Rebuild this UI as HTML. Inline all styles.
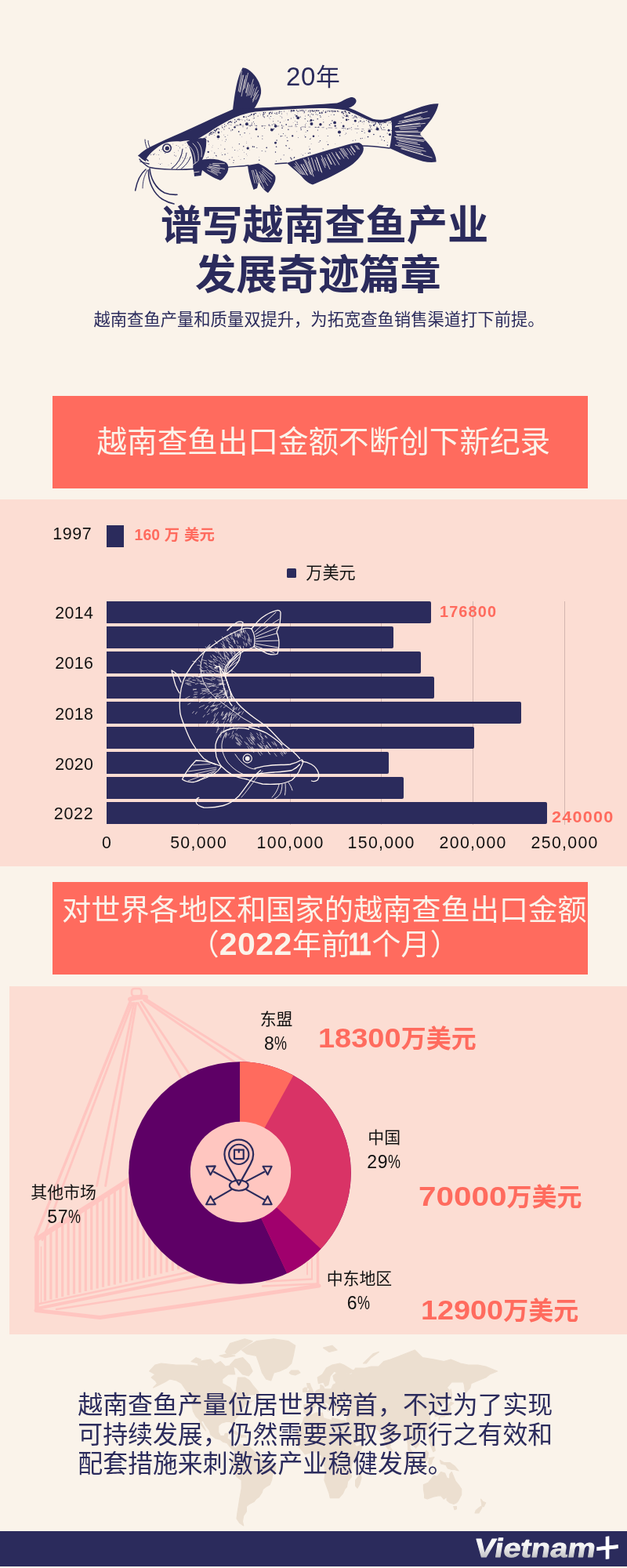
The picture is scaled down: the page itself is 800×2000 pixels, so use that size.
<!DOCTYPE html>
<html lang="zh">
<head>
<meta charset="utf-8">
<title>谱写越南查鱼产业发展奇迹篇章</title>
<style>
*{margin:0;padding:0;box-sizing:border-box}
html,body{width:800px;height:2000px;overflow:hidden;background:#faf3ea}
body{position:relative;font-family:"Liberation Sans","Noto Sans CJK SC",sans-serif;color:#2b2b5c}
.abs{position:absolute}
.t{position:absolute;white-space:nowrap;line-height:1}
.cj{font-family:"Noto Sans CJK SC","Liberation Sans",sans-serif}
.banner{position:absolute;left:67px;width:683px;background:#ff6b5e;color:#fbf3ea}
#b1{top:505.3px;height:117.8px}
#b2{top:1125.1px;height:117.5px}
.panel{position:absolute;background:#fcddd3}
#p1{left:0;top:637px;width:800px;height:467.5px}
#p2{left:12px;top:1257.5px;width:788px;height:444px}
.bar{position:absolute;left:136px;height:28.5px;background:#2b2b5c;border-radius:0 2px 2px 0}
.yl{position:absolute;font-size:21.4px;letter-spacing:.3px;color:#111;line-height:1;left:70.3px;white-space:nowrap}
.xl{position:absolute;font-size:21.3px;letter-spacing:1.3px;text-indent:1.3px;color:#111;line-height:1;top:1065px;width:120px;text-align:center;white-space:nowrap}
.grid{position:absolute;top:767px;width:1px;height:285px;background:#d3b6af}
.val{position:absolute;font-size:19.4px;font-weight:700;color:#ff6b5e;line-height:1;white-space:nowrap;letter-spacing:1.1px}
.big{position:absolute;font-size:32px;font-weight:700;color:#ff6b5e;line-height:1;white-space:nowrap}
.big b{display:inline-block;font-size:35px;transform-origin:0 50%}
.pl{position:absolute;margin-top:.4px;font-size:20.9px;color:#111;line-height:1;white-space:nowrap}
.pn{position:absolute;font-size:23px;color:#111;line-height:1;white-space:nowrap;letter-spacing:.6px;margin-top:.3px}
.pn i{display:inline-block;font-style:normal;transform:scaleX(.78);transform-origin:0 50%;letter-spacing:0}
#foot{position:absolute;left:0;top:1953.3px;width:800px;height:44.5px;background:#2b2b5c}
#ft{position:absolute;left:99.3px;top:1774.3px;font-size:31.9px;line-height:37.3px;white-space:nowrap}
</style>
</head>
<body>
<!--FISH1S--><svg class="abs" style="left:160px;top:80px" width="420" height="190" viewBox="160 80 420 190" fill="none"><g fill="#2b2b5c"><path d="M297,140 C299,122 302,100 309.5,86.5 C314,86 318,89 322,93 C329,100 334,110 333,119 C331,128 327,135 323,140 Z"/><path d="M176.5,198.3 C181,193.5 186,190.5 191,187.8 C205,181 218,175 232,169 C254,159 275,149 297,139.6 C310,138.8 330,137.6 350,136.6 C380,135 410,133 430,131.5 C436,130 441,125.5 447,124.2 C452,123.6 455,126.5 454.5,129.5 C453.5,133.5 449,136.5 445,137.5 C456,141.5 466,147.5 476,151.8 C484,154 492,152.5 500,150 L500.5,153.5 C492,156 484,157 475,155 C463,151 452,144 441,140.5 C420,137 400,138 380,138.8 C360,139.8 340,141 326,142.5 C314,144.5 306,147 297,151 C288,155 280,160 272,165 C265,170 258,174 250,178.5 C242,179 236,179.500 230,180.500 C222,180 214,180.500 207,184 C200,188 194,193 190,198 C187,201 186,204 186,206 C182,204 179,201.5 176.5,198.3 Z"/><path d="M238,181 C246,177 256,175 263,177 C264,185 262,196 258,204 C254,210 250,214 246,217 C247,209 246,199 243,192 C242,188 240,184 238,181 Z"/><path d="M252,206 C262,201 278,202 288,207 C292,210 292,215 290,220 C287,225 284,229 281,230 C273,227 264,222 258,217 L256.5,224 L248,225 L247,216 Z"/><path d="M316,211 L330,208.5 C338,212 346,218 351,224 C353,230 349,238 342,246 C338,244 333,238 330,232 L328,240 L323.5,242 C320,232 317,221 316,211 Z"/><path d="M366,208 C380,203 400,197 420,191 C435,187 450,182 458,182 C464,184 465.5,190 462,196 C456,206 446,213 436,218 C424,225 410,231 399,235.5 C393,234 388,229 384,224 C378,218 371,213 366,208 Z"/><path d="M499,150 C512,146 526,140 538,136 C546,133.5 553,132 559.5,132.3 C558,140 553,150 546,158 C542,163 538,167 536,171 C540,176 546,182 551,189 C554,195 557,201 556.5,206.5 C548,208 538,206 528,202 C517,198 506,193 497,189 C500,176 501,163 499,150 Z"/></g><g stroke="#2b2b5c" stroke-linecap="round" fill="none"><path d="M178,203 C182,207 185,211 191,213.5 C205,216.5 230,217 247,215.5" stroke-width="1.3"/><path d="M290,213.5 C300,212.5 310,212 317,211" stroke-width="1.3"/><path d="M351,209 C356,208.600 361,208.300 366,208" stroke-width="1.3"/><path d="M462,186 C474,186 486,187.5 497,189" stroke-width="1.6"/><path d="M300,160 C350,160 420,163 500,166" stroke-width=".6" stroke-dasharray="5 4 2 6" opacity=".7"/><path d="M177,198.5 C182,200 186,202 189,205" stroke-width="1.6"/><path d="M179,206 C183,207.5 187,208.5 190,209" stroke-width="1.3"/><path d="M233,190 C232,200 227,209 219,215" stroke-width="1.1"/><path d="M238,195 C237,203 232,210 225,215.5" stroke-width="1"/><path d="M243,200 C241,206 237,211 231,215.5" stroke-width="1"/><path d="M186,216 C180,221 175,230 172.6,243" stroke-width="1.5"/><path d="M188,217 C184,224 182,232 182,240" stroke-width=".9"/><path d="M191,215 C192,227 198,240 210,246 C215,248 220,248.5 226,248.3" stroke-width="1.6"/><path d="M189.5,217 C189,232 196,247 207,254 C212,257 217,259 222,260" stroke-width="1.6"/><path d="M185,178 C185,182 186,185 187.5,189" stroke-width="1"/><path d="M189,179.5 C189,183 190,185 191,187.5" stroke-width="1"/></g><circle cx="213" cy="189" r="5.2" fill="#faf3ea" stroke="#2b2b5c" stroke-width="1.6"/><circle cx="213.3" cy="189.2" r="2.6" fill="#2b2b5c"/><path d="M241,186 C246,190 249,198 249,208 M246,183 C252,188 254,196 253,205 M252,181 C257,186 258,193 257,200 M244,212 L252,206 M247,220 L254,219" stroke="#faf3ea" stroke-width=".8" fill="none" stroke-linecap="round"/><g stroke="#faf3ea" stroke-linecap="round" fill="none"><path stroke-width=".7" d="M304.2,116.2L308.4,90.5M305.6,117.1L309.3,96.1M306.7,117.3L310.7,96.0M308.1,122.7L312.4,101.6M310.3,114.4L314.1,96.3M312.2,112.8L316.5,93.2M313.7,117.6L316.7,105.3M314.0,118.7L317.0,106.8M314.9,122.4L318.7,108.1M317.2,121.8L323.2,101.1M319.2,121.2L323.5,107.8M320.2,124.3L324.3,112.8M323.5,122.0L328.0,110.9M322.5,127.8L326.9,117.9M322.5,130.0L329.6,115.2M326.3,126.9L329.7,120.7"/><path stroke-width=".8" d="M515.9,149.5L538.3,143.1M516.6,150.0L545.3,142.1M509.2,155.1L536.8,149.0M513.6,155.5L538.8,150.5M508.0,157.6L548.0,150.3M505.1,160.9L535.5,157.1M504.3,161.7L542.4,157.3M509.5,163.1L536.5,160.7M511.0,164.9L531.3,163.6M504.3,167.7L533.3,167.1M505.7,168.8L539.0,168.8M505.8,171.5L538.1,173.3M506.8,172.4L538.5,174.7M503.7,174.4L542.3,179.0M505.4,175.7L540.4,180.5M505.9,177.7L532.4,182.1M509.3,179.7L535.7,184.7M506.9,181.8L540.1,189.1M508.3,184.4L543.1,193.1M504.4,185.0L537.3,193.8M512.8,189.2L539.6,196.9M511.8,189.6L551.1,201.1"/><path stroke-width=".7" d="M271.6,208.5L286.4,208.7M267.6,209.8L279.4,210.7M271.9,211.0L280.7,212.0M266.4,211.9L286.5,215.4M266.7,213.0L280.4,216.0M264.5,213.6L279.6,218.0M269.7,216.6L281.7,220.8M269.5,217.9L277.1,221.1M264.8,216.9L277.9,223.5"/><path stroke-width=".7" d="M321.4,217.4L325.1,233.4M323.1,217.2L328.3,234.1M327.1,223.7L332.3,237.4M327.2,220.8L332.5,233.1M326.0,216.5L337.1,240.6M331.8,224.0L336.3,232.5M330.8,219.3L341.5,236.6M334.1,221.9L339.1,229.2M334.2,218.9L345.4,232.3M335.3,217.4L346.6,228.2M334.8,214.8L347.6,224.5"/><path stroke-width=".8" d="M375.1,212.6L383.6,221.8M377.0,212.1L386.0,222.7M376.4,208.8L387.4,222.7M377.4,206.3L389.3,223.0M384.3,210.5L392.3,223.5M384.1,209.4L391.9,222.4M386.9,209.5L391.5,218.1M387.5,202.9L396.2,222.2M389.6,204.0L397.6,223.0M393.2,206.2L400.1,224.9M393.1,201.1L399.2,219.2M397.5,201.5L402.1,217.2M401.9,203.9L406.6,218.1M403.5,200.6L410.1,218.8M404.0,201.3L410.7,220.0M410.3,202.8L415.0,213.8M410.0,198.4L415.7,211.1M414.0,201.2L420.9,215.7M418.0,200.8L422.5,209.6M417.0,197.4L423.3,209.2M419.8,196.3L427.8,210.5M423.3,194.6L432.8,210.1M428.3,194.1L434.1,202.8M429.0,196.6L433.3,203.0M432.9,193.3L438.8,202.0M434.1,189.8L440.7,199.5M435.6,189.4L444.4,202.3M437.8,189.4L443.2,197.3M442.7,189.4L448.5,197.8M446.3,189.7L451.7,197.5M447.6,186.9L452.7,194.0M448.1,186.1L453.3,193.5M453.0,185.3L456.8,190.4M455.2,186.0L458.4,190.3"/></g><g fill="#2b2b5c"><circle cx="406.7" cy="162.1" r="0.70"/><circle cx="427.3" cy="142.0" r="0.70"/><circle cx="483.7" cy="166.0" r="0.40"/><circle cx="305.6" cy="190.3" r="0.30"/><circle cx="395.7" cy="177.3" r="0.60"/><circle cx="415.6" cy="141.7" r="0.35"/><circle cx="309.6" cy="191.5" r="0.35"/><circle cx="494.5" cy="159.5" r="0.60"/><circle cx="431.8" cy="141.8" r="0.35"/><circle cx="267.0" cy="172.3" r="0.70"/><circle cx="443.9" cy="147.3" r="0.30"/><circle cx="310.8" cy="186.7" r="0.70"/><circle cx="299.8" cy="153.9" r="0.40"/><circle cx="371.9" cy="202.9" r="0.80"/><circle cx="486.9" cy="158.8" r="0.35"/><circle cx="441.4" cy="145.2" r="0.50"/><circle cx="459.1" cy="154.6" r="0.40"/><circle cx="462.2" cy="155.7" r="0.50"/><circle cx="489.1" cy="174.6" r="0.50"/><circle cx="292.2" cy="163.5" r="0.50"/><circle cx="306.6" cy="158.1" r="0.30"/><circle cx="264.7" cy="208.1" r="0.70"/><circle cx="389.6" cy="195.7" r="0.35"/><circle cx="376.8" cy="159.3" r="0.35"/><circle cx="369.1" cy="189.3" r="0.70"/><circle cx="323.1" cy="151.0" r="0.40"/><circle cx="340.2" cy="188.4" r="0.80"/><circle cx="385.0" cy="140.7" r="0.70"/><circle cx="407.5" cy="181.0" r="0.40"/><circle cx="427.9" cy="183.6" r="0.30"/><circle cx="305.0" cy="151.2" r="0.50"/><circle cx="335.9" cy="146.1" r="0.80"/><circle cx="283.4" cy="179.0" r="0.35"/><circle cx="408.9" cy="158.7" r="1.73"/><circle cx="457.7" cy="155.8" r="0.50"/><circle cx="387.2" cy="141.1" r="0.50"/><circle cx="464.0" cy="157.9" r="0.40"/><circle cx="437.3" cy="163.7" r="0.40"/><circle cx="334.2" cy="192.4" r="0.50"/><circle cx="446.4" cy="144.5" r="0.35"/><circle cx="290.4" cy="157.2" r="0.35"/><circle cx="320.8" cy="146.1" r="0.70"/><circle cx="389.5" cy="159.3" r="0.50"/><circle cx="423.8" cy="141.6" r="0.50"/><circle cx="395.9" cy="142.9" r="0.60"/><circle cx="285.9" cy="165.0" r="0.60"/><circle cx="379.7" cy="158.5" r="0.50"/><circle cx="374.7" cy="140.9" r="0.80"/><circle cx="293.5" cy="155.2" r="0.50"/><circle cx="299.7" cy="152.4" r="0.50"/><circle cx="482.3" cy="156.1" r="0.30"/><circle cx="290.5" cy="172.3" r="0.35"/><circle cx="337.1" cy="149.2" r="0.60"/><circle cx="362.1" cy="154.2" r="0.30"/><circle cx="267.9" cy="170.5" r="0.70"/><circle cx="367.9" cy="165.3" r="0.70"/><circle cx="404.4" cy="141.1" r="0.30"/><circle cx="336.3" cy="143.8" r="0.70"/><circle cx="395.9" cy="141.2" r="0.60"/><circle cx="452.8" cy="147.5" r="0.35"/><circle cx="438.2" cy="161.0" r="1.43"/><circle cx="388.4" cy="143.1" r="0.70"/><circle cx="443.2" cy="145.2" r="0.40"/><circle cx="275.1" cy="166.8" r="0.80"/><circle cx="282.4" cy="195.0" r="0.30"/><circle cx="486.6" cy="163.7" r="0.60"/><circle cx="356.3" cy="142.5" r="0.35"/><circle cx="352.3" cy="205.5" r="0.50"/><circle cx="427.7" cy="160.6" r="1.21"/><circle cx="315.4" cy="152.1" r="0.30"/><circle cx="442.2" cy="152.8" r="1.35"/><circle cx="477.2" cy="160.4" r="0.70"/><circle cx="395.5" cy="195.0" r="0.80"/><circle cx="453.9" cy="147.5" r="0.30"/><circle cx="351.5" cy="194.0" r="0.70"/><circle cx="372.2" cy="141.3" r="0.80"/><circle cx="389.2" cy="151.6" r="0.70"/><circle cx="359.8" cy="150.1" r="0.50"/><circle cx="327.2" cy="160.6" r="0.50"/><circle cx="439.0" cy="142.0" r="0.50"/><circle cx="399.8" cy="153.4" r="0.70"/><circle cx="352.4" cy="187.1" r="0.70"/><circle cx="270.1" cy="209.9" r="0.60"/><circle cx="275.8" cy="198.5" r="0.70"/><circle cx="432.0" cy="142.3" r="0.50"/><circle cx="269.0" cy="169.4" r="0.80"/><circle cx="292.9" cy="203.3" r="0.50"/><circle cx="404.1" cy="141.1" r="0.70"/><circle cx="368.3" cy="141.8" r="0.30"/><circle cx="344.3" cy="143.3" r="0.60"/><circle cx="365.2" cy="158.9" r="0.80"/><circle cx="412.8" cy="155.8" r="0.60"/><circle cx="386.4" cy="198.1" r="0.50"/><circle cx="435.7" cy="142.3" r="0.35"/><circle cx="379.7" cy="141.9" r="0.60"/><circle cx="324.5" cy="157.7" r="0.50"/><circle cx="440.3" cy="142.2" r="0.50"/><circle cx="379.5" cy="155.9" r="0.50"/><circle cx="267.6" cy="170.5" r="0.50"/><circle cx="320.8" cy="146.0" r="0.30"/><circle cx="282.8" cy="167.9" r="0.35"/><circle cx="478.9" cy="156.3" r="0.50"/><circle cx="410.7" cy="143.4" r="0.80"/><circle cx="343.7" cy="145.1" r="0.80"/><circle cx="438.2" cy="166.1" r="0.35"/><circle cx="366.2" cy="175.2" r="0.50"/><circle cx="438.9" cy="144.0" r="0.40"/><circle cx="347.3" cy="159.1" r="0.60"/><circle cx="441.7" cy="164.8" r="0.40"/><circle cx="347.4" cy="143.0" r="0.60"/><circle cx="277.0" cy="164.2" r="0.80"/><circle cx="455.3" cy="150.9" r="0.30"/><circle cx="276.4" cy="164.9" r="0.35"/><circle cx="426.2" cy="146.4" r="0.60"/><circle cx="326.5" cy="144.6" r="0.60"/><circle cx="417.1" cy="142.8" r="0.35"/><circle cx="336.0" cy="148.3" r="0.50"/><circle cx="364.0" cy="173.0" r="0.50"/><circle cx="311.5" cy="202.4" r="0.50"/><circle cx="278.4" cy="189.4" r="0.30"/><circle cx="353.7" cy="145.5" r="0.50"/><circle cx="436.8" cy="143.6" r="0.70"/><circle cx="388.8" cy="172.9" r="0.40"/><circle cx="441.7" cy="169.9" r="0.50"/><circle cx="311.5" cy="148.7" r="0.40"/><circle cx="395.3" cy="190.2" r="0.70"/><circle cx="273.5" cy="172.7" r="0.35"/><circle cx="324.2" cy="145.1" r="0.60"/><circle cx="278.5" cy="174.4" r="1.92"/><circle cx="360.1" cy="163.3" r="0.80"/><circle cx="384.2" cy="165.4" r="0.70"/><circle cx="453.4" cy="148.3" r="0.40"/><circle cx="377.5" cy="149.0" r="0.35"/><circle cx="479.4" cy="157.8" r="0.60"/><circle cx="464.5" cy="166.8" r="0.35"/><circle cx="489.8" cy="162.7" r="0.60"/><circle cx="452.1" cy="148.9" r="0.70"/><circle cx="479.6" cy="156.5" r="0.40"/><circle cx="497.8" cy="156.5" r="0.40"/><circle cx="335.7" cy="146.9" r="0.50"/><circle cx="324.3" cy="187.3" r="0.80"/><circle cx="285.8" cy="172.1" r="0.40"/><circle cx="440.3" cy="142.0" r="0.80"/><circle cx="478.0" cy="156.3" r="0.35"/><circle cx="305.8" cy="152.6" r="0.50"/><circle cx="403.2" cy="145.8" r="0.50"/><circle cx="365.0" cy="185.8" r="0.70"/><circle cx="441.3" cy="143.1" r="0.80"/><circle cx="464.5" cy="154.9" r="0.70"/><circle cx="479.2" cy="157.1" r="0.35"/><circle cx="374.8" cy="141.4" r="0.30"/><circle cx="310.6" cy="149.1" r="0.70"/><circle cx="494.2" cy="170.0" r="0.50"/><circle cx="272.0" cy="201.4" r="0.30"/><circle cx="469.5" cy="174.6" r="0.80"/><circle cx="450.8" cy="158.3" r="0.40"/><circle cx="444.8" cy="143.7" r="0.40"/><circle cx="412.1" cy="189.8" r="0.50"/><circle cx="382.9" cy="140.6" r="0.40"/><circle cx="258.3" cy="196.1" r="0.40"/><circle cx="277.9" cy="164.4" r="0.35"/><circle cx="473.3" cy="164.2" r="0.35"/><circle cx="400.0" cy="173.7" r="1.29"/><circle cx="304.7" cy="167.9" r="0.80"/><circle cx="389.5" cy="148.0" r="0.40"/><circle cx="491.3" cy="156.3" r="0.70"/><circle cx="276.4" cy="165.6" r="0.80"/><circle cx="419.4" cy="141.5" r="0.35"/><circle cx="424.3" cy="141.6" r="0.70"/><circle cx="421.6" cy="159.8" r="0.35"/><circle cx="261.0" cy="177.3" r="0.80"/><circle cx="315.5" cy="157.2" r="0.80"/><circle cx="465.2" cy="169.3" r="0.50"/><circle cx="294.8" cy="166.8" r="0.50"/><circle cx="440.7" cy="148.4" r="0.35"/><circle cx="306.4" cy="171.8" r="0.60"/><circle cx="324.3" cy="150.6" r="0.60"/><circle cx="366.1" cy="144.4" r="0.35"/><circle cx="292.1" cy="155.8" r="0.40"/><circle cx="301.5" cy="154.8" r="0.80"/><circle cx="401.4" cy="141.1" r="0.50"/><circle cx="265.8" cy="210.1" r="0.70"/><circle cx="356.5" cy="142.3" r="0.70"/><circle cx="482.3" cy="156.1" r="0.50"/><circle cx="443.6" cy="164.5" r="0.70"/><circle cx="481.0" cy="162.3" r="0.70"/><circle cx="334.9" cy="173.2" r="0.50"/><circle cx="405.3" cy="141.1" r="0.60"/><circle cx="303.7" cy="152.4" r="0.80"/><circle cx="283.7" cy="162.7" r="0.60"/><circle cx="448.8" cy="165.3" r="0.40"/><circle cx="388.4" cy="141.9" r="0.50"/><circle cx="343.3" cy="150.1" r="0.40"/><circle cx="396.9" cy="141.2" r="0.50"/><circle cx="395.3" cy="140.9" r="0.50"/><circle cx="445.9" cy="144.2" r="0.80"/><circle cx="397.5" cy="158.0" r="1.97"/><circle cx="322.4" cy="187.1" r="0.80"/><circle cx="290.8" cy="195.4" r="0.35"/><circle cx="393.6" cy="141.6" r="0.60"/><circle cx="403.6" cy="141.1" r="0.30"/><circle cx="327.8" cy="188.6" r="0.50"/><circle cx="441.5" cy="143.8" r="0.40"/><circle cx="302.9" cy="159.7" r="0.35"/><circle cx="355.6" cy="171.1" r="0.40"/><circle cx="420.4" cy="159.2" r="0.70"/><circle cx="413.0" cy="162.1" r="0.40"/><circle cx="371.3" cy="141.3" r="0.70"/><circle cx="286.6" cy="161.7" r="0.60"/><circle cx="383.8" cy="141.4" r="0.60"/><circle cx="270.9" cy="187.8" r="0.40"/><circle cx="378.4" cy="140.7" r="0.60"/><circle cx="357.6" cy="156.1" r="0.70"/><circle cx="375.6" cy="200.7" r="0.70"/><circle cx="457.7" cy="149.1" r="0.35"/><circle cx="477.1" cy="159.8" r="0.70"/><circle cx="263.9" cy="201.5" r="0.50"/><circle cx="433.6" cy="173.0" r="0.70"/><circle cx="402.6" cy="162.2" r="0.50"/><circle cx="470.2" cy="154.8" r="0.80"/><circle cx="316.6" cy="186.5" r="0.30"/><circle cx="283.5" cy="197.6" r="0.50"/><circle cx="417.0" cy="180.8" r="0.35"/><circle cx="499.8" cy="166.5" r="0.60"/><circle cx="360.0" cy="173.5" r="0.50"/><circle cx="360.0" cy="142.1" r="0.35"/><circle cx="281.9" cy="184.9" r="0.35"/><circle cx="397.4" cy="145.2" r="0.50"/><circle cx="317.0" cy="148.4" r="0.60"/><circle cx="299.6" cy="156.4" r="0.80"/><circle cx="455.3" cy="149.8" r="0.60"/><circle cx="425.5" cy="142.0" r="0.50"/><circle cx="265.5" cy="200.2" r="0.50"/><circle cx="336.5" cy="143.8" r="0.80"/><circle cx="470.7" cy="154.8" r="0.30"/><circle cx="305.3" cy="183.7" r="0.60"/><circle cx="261.9" cy="183.6" r="0.50"/><circle cx="315.2" cy="198.8" r="0.30"/><circle cx="415.3" cy="142.5" r="0.60"/><circle cx="490.6" cy="156.0" r="0.70"/><circle cx="430.6" cy="141.8" r="0.80"/><circle cx="358.5" cy="142.3" r="0.50"/><circle cx="287.2" cy="174.4" r="0.50"/><circle cx="315.0" cy="164.0" r="0.50"/><circle cx="418.2" cy="173.6" r="0.50"/><circle cx="474.7" cy="156.5" r="0.50"/><circle cx="325.0" cy="159.8" r="0.35"/><circle cx="276.5" cy="199.8" r="0.35"/><circle cx="386.5" cy="140.7" r="0.50"/><circle cx="388.0" cy="144.4" r="0.35"/><circle cx="297.8" cy="207.5" r="0.50"/><circle cx="317.5" cy="148.0" r="0.30"/><circle cx="303.1" cy="192.1" r="0.30"/><circle cx="408.5" cy="179.6" r="0.70"/><circle cx="258.6" cy="201.5" r="0.30"/><circle cx="392.6" cy="154.5" r="0.60"/><circle cx="375.0" cy="140.9" r="0.50"/><circle cx="380.4" cy="175.5" r="0.40"/><circle cx="444.6" cy="143.6" r="0.70"/><circle cx="315.0" cy="152.1" r="0.50"/><circle cx="448.3" cy="162.7" r="0.50"/><circle cx="389.7" cy="174.8" r="0.80"/><circle cx="307.0" cy="203.4" r="0.30"/><circle cx="396.6" cy="176.2" r="0.40"/><circle cx="405.2" cy="151.7" r="0.70"/><circle cx="433.0" cy="168.5" r="2.01"/><circle cx="395.7" cy="148.7" r="0.50"/><circle cx="271.1" cy="170.6" r="0.60"/><circle cx="456.4" cy="160.7" r="0.50"/><circle cx="378.6" cy="155.8" r="0.40"/><circle cx="318.0" cy="153.3" r="0.80"/><circle cx="272.8" cy="169.1" r="0.60"/><circle cx="427.1" cy="156.4" r="1.86"/><circle cx="403.4" cy="141.2" r="0.80"/><circle cx="384.2" cy="196.5" r="0.30"/><circle cx="316.2" cy="189.1" r="1.66"/><circle cx="372.2" cy="191.0" r="0.30"/><circle cx="422.5" cy="157.6" r="0.50"/><circle cx="286.8" cy="190.1" r="0.70"/><circle cx="483.7" cy="157.1" r="0.60"/><circle cx="487.0" cy="178.4" r="0.50"/><circle cx="267.6" cy="172.7" r="0.30"/><circle cx="436.5" cy="148.9" r="0.40"/><circle cx="353.1" cy="179.0" r="0.70"/><circle cx="269.9" cy="171.3" r="0.50"/><circle cx="302.4" cy="159.9" r="0.40"/><circle cx="354.9" cy="154.3" r="0.50"/><circle cx="376.6" cy="154.4" r="0.40"/><circle cx="307.5" cy="152.6" r="0.35"/><circle cx="269.4" cy="169.7" r="0.50"/><circle cx="408.3" cy="147.4" r="0.50"/><circle cx="395.3" cy="154.7" r="0.50"/><circle cx="345.4" cy="143.2" r="0.60"/><circle cx="291.2" cy="156.8" r="0.35"/><circle cx="262.9" cy="175.1" r="0.70"/><circle cx="366.9" cy="179.5" r="0.70"/><circle cx="444.5" cy="148.4" r="0.30"/><circle cx="405.1" cy="146.4" r="0.50"/><circle cx="294.5" cy="165.0" r="0.30"/><circle cx="357.4" cy="148.1" r="0.40"/><circle cx="383.1" cy="149.2" r="0.60"/><circle cx="419.2" cy="141.6" r="0.50"/><circle cx="460.0" cy="154.2" r="0.80"/><circle cx="351.5" cy="182.3" r="1.47"/><circle cx="405.9" cy="141.2" r="0.30"/><circle cx="438.8" cy="146.1" r="0.30"/><circle cx="453.7" cy="178.7" r="0.50"/><circle cx="417.8" cy="141.4" r="0.50"/><circle cx="393.1" cy="142.8" r="0.35"/><circle cx="489.1" cy="174.5" r="0.50"/><circle cx="320.8" cy="176.1" r="0.35"/><circle cx="272.5" cy="168.8" r="0.60"/><circle cx="326.9" cy="164.8" r="1.50"/><circle cx="373.0" cy="141.2" r="0.50"/><circle cx="383.9" cy="163.3" r="0.70"/><circle cx="373.8" cy="141.8" r="0.50"/><circle cx="427.4" cy="141.7" r="0.70"/><circle cx="287.1" cy="196.9" r="0.70"/><circle cx="323.8" cy="147.9" r="0.50"/><circle cx="371.5" cy="142.8" r="0.50"/><circle cx="275.5" cy="165.0" r="0.60"/><circle cx="473.8" cy="160.4" r="0.50"/><circle cx="472.7" cy="162.1" r="0.70"/><circle cx="489.0" cy="156.8" r="0.50"/><circle cx="444.7" cy="152.5" r="0.70"/><circle cx="273.4" cy="166.2" r="0.80"/><circle cx="470.9" cy="156.0" r="0.70"/><circle cx="267.2" cy="170.8" r="0.50"/><circle cx="332.7" cy="146.4" r="0.30"/><circle cx="294.3" cy="154.8" r="0.50"/><circle cx="320.5" cy="146.6" r="0.30"/><circle cx="482.2" cy="182.5" r="0.30"/><circle cx="315.9" cy="153.8" r="0.35"/><circle cx="409.1" cy="149.2" r="0.60"/><circle cx="283.1" cy="160.8" r="0.50"/><circle cx="426.3" cy="155.3" r="0.50"/><circle cx="296.6" cy="165.6" r="0.80"/><circle cx="329.1" cy="148.0" r="0.60"/><circle cx="439.2" cy="147.6" r="0.50"/><circle cx="345.7" cy="163.7" r="0.40"/><circle cx="497.4" cy="171.6" r="1.55"/><circle cx="444.9" cy="147.4" r="0.40"/><circle cx="408.4" cy="144.2" r="0.80"/><circle cx="270.9" cy="168.4" r="0.70"/><circle cx="319.2" cy="160.8" r="0.60"/><circle cx="337.1" cy="145.6" r="0.50"/><circle cx="461.9" cy="167.4" r="0.70"/><circle cx="288.4" cy="177.9" r="0.50"/><circle cx="288.3" cy="160.2" r="0.50"/><circle cx="313.9" cy="148.3" r="0.30"/><circle cx="372.2" cy="160.2" r="0.40"/><circle cx="323.6" cy="146.0" r="0.70"/><circle cx="351.6" cy="160.9" r="1.81"/><circle cx="286.7" cy="158.8" r="0.50"/><circle cx="344.3" cy="151.8" r="0.35"/><circle cx="476.9" cy="171.5" r="0.80"/><circle cx="274.3" cy="169.0" r="0.50"/><circle cx="312.1" cy="169.6" r="0.70"/><circle cx="495.4" cy="156.8" r="0.50"/><circle cx="390.1" cy="168.5" r="0.40"/><circle cx="459.8" cy="154.7" r="0.50"/><circle cx="362.7" cy="141.9" r="0.30"/><circle cx="323.4" cy="155.5" r="0.50"/><circle cx="324.3" cy="145.5" r="0.80"/><circle cx="306.7" cy="158.9" r="1.11"/><circle cx="442.1" cy="153.9" r="0.30"/><circle cx="375.0" cy="201.4" r="0.50"/><circle cx="498.0" cy="156.9" r="0.30"/><circle cx="358.3" cy="173.8" r="0.70"/><circle cx="310.0" cy="161.8" r="0.50"/><circle cx="485.2" cy="174.0" r="0.80"/><circle cx="485.7" cy="155.9" r="0.30"/><circle cx="486.6" cy="159.8" r="0.35"/><circle cx="263.8" cy="179.3" r="0.35"/><circle cx="260.5" cy="176.3" r="0.60"/><circle cx="260.7" cy="180.6" r="0.50"/><circle cx="436.0" cy="144.2" r="0.35"/><circle cx="484.5" cy="158.7" r="0.70"/><circle cx="318.6" cy="191.7" r="0.30"/><circle cx="260.3" cy="176.3" r="0.60"/><circle cx="352.0" cy="145.2" r="0.50"/><circle cx="454.2" cy="149.0" r="0.80"/><circle cx="343.7" cy="144.3" r="0.60"/><circle cx="401.8" cy="141.8" r="0.50"/><circle cx="437.5" cy="142.2" r="0.40"/><circle cx="390.2" cy="157.3" r="0.40"/><circle cx="295.7" cy="156.1" r="0.40"/><circle cx="362.2" cy="141.8" r="0.30"/><circle cx="355.6" cy="144.0" r="0.50"/><circle cx="263.0" cy="174.2" r="0.35"/><circle cx="440.5" cy="142.0" r="0.60"/><circle cx="362.1" cy="197.7" r="0.50"/><circle cx="378.8" cy="167.8" r="0.40"/><circle cx="274.9" cy="167.6" r="0.60"/><circle cx="471.3" cy="167.3" r="1.73"/><circle cx="349.5" cy="158.1" r="0.50"/><circle cx="341.4" cy="147.9" r="0.70"/><circle cx="380.2" cy="150.3" r="1.84"/><circle cx="438.1" cy="144.9" r="0.80"/><circle cx="359.5" cy="145.0" r="0.50"/><circle cx="348.9" cy="151.6" r="0.30"/><circle cx="265.8" cy="180.8" r="0.80"/><circle cx="269.2" cy="169.2" r="0.60"/><circle cx="294.8" cy="159.2" r="0.50"/><circle cx="436.6" cy="142.9" r="0.80"/><circle cx="497.4" cy="156.8" r="0.40"/><circle cx="440.2" cy="171.7" r="0.35"/><circle cx="314.7" cy="182.3" r="0.40"/><circle cx="451.0" cy="150.4" r="0.50"/><circle cx="273.7" cy="195.0" r="0.60"/><circle cx="453.3" cy="150.0" r="0.30"/><circle cx="467.5" cy="153.4" r="0.50"/><circle cx="490.7" cy="155.9" r="0.35"/><circle cx="392.3" cy="166.8" r="0.80"/><circle cx="275.5" cy="170.0" r="0.30"/><circle cx="444.5" cy="149.3" r="0.35"/><circle cx="294.7" cy="156.5" r="0.35"/><circle cx="338.8" cy="193.1" r="0.50"/><circle cx="459.8" cy="150.0" r="0.40"/><circle cx="406.7" cy="141.2" r="0.80"/><circle cx="476.2" cy="156.4" r="0.50"/><circle cx="386.8" cy="142.1" r="0.50"/><circle cx="393.5" cy="195.4" r="0.70"/><circle cx="261.7" cy="176.2" r="0.60"/><circle cx="462.4" cy="176.2" r="0.50"/><circle cx="426.2" cy="141.8" r="0.40"/><circle cx="299.5" cy="162.3" r="1.22"/><circle cx="485.7" cy="161.8" r="0.60"/><circle cx="259.9" cy="176.5" r="0.50"/><circle cx="436.2" cy="143.5" r="0.50"/><circle cx="444.3" cy="143.6" r="0.35"/><circle cx="410.8" cy="144.5" r="0.70"/><circle cx="325.6" cy="144.7" r="0.35"/><circle cx="485.9" cy="156.8" r="0.70"/><circle cx="314.9" cy="158.3" r="1.98"/><circle cx="488.4" cy="155.7" r="0.80"/><circle cx="312.6" cy="154.0" r="0.50"/><circle cx="437.9" cy="150.3" r="0.80"/><circle cx="346.8" cy="144.8" r="0.80"/><circle cx="417.4" cy="142.1" r="0.30"/><circle cx="420.6" cy="142.0" r="0.70"/><circle cx="348.7" cy="154.7" r="0.50"/><circle cx="325.4" cy="144.7" r="0.35"/><circle cx="390.1" cy="140.8" r="0.50"/><circle cx="279.4" cy="164.7" r="0.60"/><circle cx="265.3" cy="179.5" r="0.60"/><circle cx="455.4" cy="169.4" r="0.40"/><circle cx="345.5" cy="148.5" r="0.60"/><circle cx="374.1" cy="156.5" r="0.30"/><circle cx="494.3" cy="185.3" r="0.70"/><circle cx="362.9" cy="142.3" r="0.35"/><circle cx="499.4" cy="155.0" r="0.80"/><circle cx="416.8" cy="164.0" r="0.50"/><circle cx="399.4" cy="146.7" r="0.40"/><circle cx="382.8" cy="140.6" r="0.35"/><circle cx="258.9" cy="207.7" r="0.50"/><circle cx="418.5" cy="184.5" r="0.80"/><circle cx="445.8" cy="144.1" r="0.80"/><circle cx="295.7" cy="156.1" r="0.60"/><circle cx="486.6" cy="176.2" r="0.30"/><circle cx="284.4" cy="163.1" r="0.35"/><circle cx="445.8" cy="144.1" r="0.35"/><circle cx="274.4" cy="166.1" r="0.35"/><circle cx="381.3" cy="141.9" r="0.60"/><circle cx="446.1" cy="144.6" r="0.70"/><circle cx="370.9" cy="201.2" r="0.80"/><circle cx="299.2" cy="152.4" r="0.40"/><circle cx="463.9" cy="151.8" r="0.40"/><circle cx="292.8" cy="164.1" r="0.40"/><circle cx="406.2" cy="173.4" r="0.35"/><circle cx="260.6" cy="176.1" r="0.35"/><circle cx="435.7" cy="156.5" r="0.40"/><circle cx="407.7" cy="144.0" r="0.80"/><circle cx="330.8" cy="200.3" r="0.30"/><circle cx="352.3" cy="143.9" r="0.50"/><circle cx="321.1" cy="146.0" r="0.70"/><circle cx="337.6" cy="150.0" r="0.40"/><circle cx="395.4" cy="146.9" r="0.35"/><circle cx="353.5" cy="143.8" r="0.50"/><circle cx="311.3" cy="148.8" r="0.80"/><circle cx="351.1" cy="158.4" r="0.60"/><circle cx="270.0" cy="192.7" r="0.30"/><circle cx="350.5" cy="144.4" r="0.50"/><circle cx="421.4" cy="157.3" r="0.30"/><circle cx="375.1" cy="141.4" r="0.80"/><circle cx="435.4" cy="143.7" r="0.35"/><circle cx="259.7" cy="183.3" r="0.50"/><circle cx="402.7" cy="143.2" r="0.50"/><circle cx="308.8" cy="174.3" r="0.30"/><circle cx="378.4" cy="147.9" r="1.19"/><circle cx="319.0" cy="147.5" r="0.70"/><circle cx="414.6" cy="143.4" r="0.35"/><circle cx="327.2" cy="162.6" r="0.35"/><circle cx="312.5" cy="149.2" r="0.30"/><circle cx="334.8" cy="177.0" r="0.50"/><circle cx="271.7" cy="185.8" r="0.30"/><circle cx="278.3" cy="163.6" r="0.60"/><circle cx="412.6" cy="141.3" r="0.50"/><circle cx="398.3" cy="141.0" r="0.80"/><circle cx="359.2" cy="160.4" r="0.35"/><circle cx="278.2" cy="177.7" r="0.40"/><circle cx="366.3" cy="146.0" r="0.35"/><circle cx="365.7" cy="186.2" r="0.35"/><circle cx="460.2" cy="176.7" r="0.60"/><circle cx="419.2" cy="148.4" r="0.35"/><circle cx="354.1" cy="161.7" r="0.35"/><circle cx="309.1" cy="153.0" r="0.40"/><circle cx="461.1" cy="150.6" r="0.50"/><circle cx="372.3" cy="141.1" r="0.70"/><circle cx="483.2" cy="156.2" r="0.80"/><circle cx="377.5" cy="159.1" r="0.70"/><circle cx="374.6" cy="149.9" r="0.40"/><circle cx="336.4" cy="143.7" r="0.40"/><circle cx="415.6" cy="143.5" r="0.70"/><circle cx="367.6" cy="152.9" r="0.80"/><circle cx="399.3" cy="146.1" r="0.70"/><circle cx="337.4" cy="163.5" r="0.50"/><circle cx="342.9" cy="146.9" r="0.30"/><circle cx="320.2" cy="146.2" r="0.50"/><circle cx="349.4" cy="164.4" r="0.70"/><circle cx="273.8" cy="166.2" r="0.70"/><circle cx="478.1" cy="158.5" r="0.80"/><circle cx="286.4" cy="159.1" r="0.35"/><circle cx="422.4" cy="146.6" r="0.40"/><circle cx="266.5" cy="184.1" r="0.40"/><circle cx="338.6" cy="143.7" r="0.60"/><circle cx="453.0" cy="147.1" r="0.40"/><circle cx="310.9" cy="149.3" r="0.60"/><circle cx="287.2" cy="180.5" r="0.40"/><circle cx="481.6" cy="164.6" r="1.89"/><circle cx="453.3" cy="154.2" r="1.46"/><circle cx="299.7" cy="191.5" r="0.50"/><circle cx="393.7" cy="141.6" r="0.35"/><circle cx="324.0" cy="146.2" r="0.50"/><circle cx="486.3" cy="155.9" r="0.70"/><circle cx="296.7" cy="188.0" r="0.40"/><circle cx="389.6" cy="161.9" r="0.50"/><circle cx="361.4" cy="170.4" r="0.50"/><circle cx="424.1" cy="143.1" r="0.50"/><circle cx="486.4" cy="159.1" r="0.60"/><circle cx="472.3" cy="155.4" r="0.35"/><circle cx="397.1" cy="183.6" r="0.35"/><circle cx="331.2" cy="144.1" r="0.35"/><circle cx="305.3" cy="152.9" r="0.60"/><circle cx="469.1" cy="154.0" r="0.35"/><circle cx="292.1" cy="159.0" r="0.40"/><circle cx="495.8" cy="164.5" r="0.35"/><circle cx="422.4" cy="141.6" r="0.60"/><circle cx="406.2" cy="181.3" r="0.35"/><circle cx="359.0" cy="148.3" r="0.35"/><circle cx="425.8" cy="141.6" r="0.35"/><circle cx="290.6" cy="157.7" r="0.60"/><circle cx="311.1" cy="149.8" r="0.40"/><circle cx="494.2" cy="181.3" r="0.40"/><circle cx="465.8" cy="176.0" r="0.30"/><circle cx="405.4" cy="166.0" r="0.60"/><circle cx="278.9" cy="169.0" r="1.40"/><circle cx="330.8" cy="204.3" r="0.70"/><circle cx="265.7" cy="193.8" r="1.17"/><circle cx="450.2" cy="179.2" r="0.50"/><circle cx="356.6" cy="144.1" r="0.60"/><circle cx="352.9" cy="187.2" r="0.50"/><circle cx="321.5" cy="157.0" r="0.60"/><circle cx="343.2" cy="159.2" r="0.70"/><circle cx="294.3" cy="155.2" r="0.80"/><circle cx="311.5" cy="194.2" r="0.40"/><circle cx="315.7" cy="163.1" r="0.50"/><circle cx="397.0" cy="150.1" r="0.30"/><circle cx="314.2" cy="149.3" r="0.60"/><circle cx="436.9" cy="142.2" r="0.30"/><circle cx="449.3" cy="150.6" r="0.35"/><circle cx="379.9" cy="144.9" r="0.30"/><circle cx="358.3" cy="203.1" r="0.60"/><circle cx="420.1" cy="141.5" r="0.35"/><circle cx="497.7" cy="156.6" r="0.40"/><circle cx="359.4" cy="159.6" r="0.50"/><circle cx="449.3" cy="147.2" r="0.50"/><circle cx="394.1" cy="186.9" r="0.35"/><circle cx="373.2" cy="173.4" r="1.13"/><circle cx="488.9" cy="157.6" r="0.40"/><circle cx="292.7" cy="155.7" r="0.80"/><circle cx="490.4" cy="179.4" r="0.60"/><circle cx="291.5" cy="156.2" r="0.60"/><circle cx="486.8" cy="155.9" r="0.40"/><circle cx="427.8" cy="142.1" r="0.80"/><circle cx="346.9" cy="165.6" r="1.97"/><circle cx="496.0" cy="166.3" r="1.42"/><circle cx="399.0" cy="141.8" r="0.80"/><circle cx="442.5" cy="147.9" r="1.32"/><circle cx="276.6" cy="165.5" r="0.40"/><circle cx="296.8" cy="154.7" r="0.35"/><circle cx="329.3" cy="174.1" r="0.80"/><circle cx="499.4" cy="158.2" r="0.30"/><circle cx="304.2" cy="199.2" r="0.30"/><circle cx="364.2" cy="153.0" r="0.30"/><circle cx="269.0" cy="171.6" r="0.50"/><circle cx="490.6" cy="155.6" r="0.70"/><circle cx="451.4" cy="150.3" r="0.35"/><circle cx="370.6" cy="141.5" r="0.30"/><circle cx="298.3" cy="204.6" r="0.60"/><circle cx="321.1" cy="159.2" r="0.60"/><circle cx="318.7" cy="170.2" r="0.40"/><circle cx="471.9" cy="160.0" r="0.70"/><circle cx="400.0" cy="141.7" r="0.80"/><circle cx="314.5" cy="196.5" r="0.40"/><circle cx="371.3" cy="150.9" r="0.50"/><circle cx="484.0" cy="156.7" r="0.70"/><circle cx="296.1" cy="200.8" r="0.50"/><circle cx="412.6" cy="152.8" r="0.30"/><circle cx="393.4" cy="146.8" r="0.70"/><circle cx="423.9" cy="153.9" r="0.70"/><circle cx="397.0" cy="153.5" r="1.42"/><circle cx="412.7" cy="141.3" r="0.40"/><circle cx="492.8" cy="156.0" r="0.80"/><circle cx="270.2" cy="169.2" r="0.30"/><circle cx="314.7" cy="180.8" r="0.30"/><circle cx="476.5" cy="159.4" r="0.70"/><circle cx="343.4" cy="143.2" r="0.35"/><circle cx="376.5" cy="146.6" r="0.50"/><circle cx="334.5" cy="160.9" r="0.60"/><circle cx="222.3" cy="194.3" r="0.40"/><circle cx="230.2" cy="210.3" r="0.30"/><circle cx="224.3" cy="199.0" r="0.50"/><circle cx="203.7" cy="192.1" r="0.30"/><circle cx="195.9" cy="197.3" r="0.50"/><circle cx="202.2" cy="208.2" r="0.30"/><circle cx="237.8" cy="188.5" r="0.40"/><circle cx="229.6" cy="188.9" r="0.40"/><circle cx="236.6" cy="188.2" r="0.30"/><circle cx="238.8" cy="175.7" r="0.40"/><circle cx="239.1" cy="201.3" r="0.40"/><circle cx="202.7" cy="197.5" r="0.40"/><circle cx="239.3" cy="186.4" r="0.30"/><circle cx="227.5" cy="192.0" r="0.40"/><circle cx="233.4" cy="195.5" r="0.30"/><circle cx="218.5" cy="208.3" r="0.50"/><circle cx="236.2" cy="177.3" r="0.50"/><circle cx="207.7" cy="189.3" r="0.30"/><circle cx="215.0" cy="210.7" r="0.30"/><circle cx="222.7" cy="198.1" r="0.50"/><circle cx="197.7" cy="196.0" r="0.40"/><circle cx="203.6" cy="191.4" r="0.50"/><circle cx="203.3" cy="202.1" r="0.30"/><circle cx="206.5" cy="208.2" r="0.30"/><circle cx="204.5" cy="209.5" r="0.50"/><circle cx="205.1" cy="193.6" r="0.30"/><circle cx="206.7" cy="190.7" r="0.50"/><circle cx="239.6" cy="175.0" r="0.30"/><circle cx="233.1" cy="185.0" r="0.40"/><circle cx="227.8" cy="186.6" r="0.40"/><circle cx="200.0" cy="197.7" r="0.30"/><circle cx="211.7" cy="189.9" r="0.40"/><circle cx="192.6" cy="197.3" r="0.50"/><circle cx="233.0" cy="201.1" r="0.50"/><circle cx="210.7" cy="190.5" r="0.30"/><circle cx="229.5" cy="205.6" r="0.30"/><circle cx="196.1" cy="196.7" r="0.50"/><circle cx="210.8" cy="195.5" r="0.50"/><circle cx="236.2" cy="182.7" r="0.40"/><circle cx="219.3" cy="187.2" r="0.30"/><circle cx="216.4" cy="185.8" r="0.30"/><circle cx="220.8" cy="183.8" r="0.40"/><circle cx="229.4" cy="188.0" r="0.40"/><circle cx="203.4" cy="203.0" r="0.30"/><circle cx="225.3" cy="185.7" r="0.40"/><circle cx="238.8" cy="207.7" r="0.30"/><circle cx="237.7" cy="202.7" r="0.30"/><circle cx="217.5" cy="184.9" r="0.40"/><circle cx="224.7" cy="185.5" r="0.30"/><circle cx="239.8" cy="181.4" r="0.50"/></g></svg><!--FISH1E-->
<div class="t" id="yr" style="left:365px;top:80.5px;font-size:30.8px"><span style="font-size:33px;letter-spacing:.7px">20</span>年</div>
<div class="t" id="h1a" style="left:205px;top:261.5px;font-size:52.3px;font-weight:700">谱写越南查鱼产业</div>
<div class="t" id="h1b" style="left:249px;top:325px;font-size:52.3px;font-weight:700">发展奇迹篇章</div>
<div class="t" id="sub" style="left:119.5px;top:398.3px;font-size:21.3px">越南查鱼产量和质量双提升，为拓宽查鱼销售渠道打下前提。</div>

<div class="banner" id="b1"></div>
<div class="t" id="b1t" style="left:123.5px;top:545px;font-size:38.6px;color:#fbf3ea">越南查鱼出口金额不断创下新纪录</div>
<div class="panel" id="p1"></div>

<div class="yl" style="top:671px;left:67.2px;font-size:21.5px;letter-spacing:.6px">1997</div>
<div class="abs" style="left:136.3px;top:670px;width:21.8px;height:27.6px;background:#2b2b5c"></div>
<div class="val" style="left:171.5px;top:673px;letter-spacing:.15px">160 万 美元</div>

<div class="abs" style="left:366.3px;top:724.5px;width:12px;height:12px;background:#2b2b5c;border-radius:1.5px"></div>
<div class="t" style="left:390.3px;top:720.3px;font-size:21.1px;color:#111">万美元</div>

<div class="grid" style="left:253px"></div>
<div class="grid" style="left:370px"></div>
<div class="grid" style="left:486px"></div>
<div class="grid" style="left:603px"></div>
<div class="grid" style="left:720px"></div>

<div class="bar" style="top:766.7px;width:413.6px"></div>
<div class="bar" style="top:798.7px;width:366px"></div>
<div class="bar" style="top:830.7px;width:401px"></div>
<div class="bar" style="top:862.7px;width:418px"></div>
<div class="bar" style="top:894.7px;width:529px"></div>
<div class="bar" style="top:926.7px;width:469px"></div>
<div class="bar" style="top:958.7px;width:360px"></div>
<div class="bar" style="top:990.7px;width:379px"></div>
<div class="bar" style="top:1022.7px;width:561.6px"></div>
<!--FISH2S--><svg class="abs" style="left:200px;top:760px" width="240" height="290" viewBox="200 760 240 290" fill="none" stroke-linecap="round" stroke-linejoin="round"><g stroke="#fff6f0" stroke-width="1.3"><path d="M321,802 C325,797 329,792 334,788 C340,783.500 347,780 354,778.400 C357,778.400 358.500,780 358,783 C358,788 357.500,792 357,796 C356,800 354,803 353,806 C354.500,810 356,815 356,820 C356,825 355.500,830 354,834 C350,835.500 346,835 342,834 C336,831.500 330,828 324,825"/><path d="M321,802 C324.500,808 326,817 324,825"/><path d="M325,806 L352,781 M326,809 L356,790 M326.500,812 L355,800 M326.500,815 L353,808 M326.500,818 L355,817 M326,821 L355,826 M325,823.500 L350,833" stroke-width=".9"/><path d="M321,802 C317,801 313,801 310,802 C305,803.500 300,806 296,808 C289,811.500 282,815.500 276,820 C269.500,824.500 263.500,829 258,834 C252.500,839 248,844.500 244,850 C240,855.500 236.500,861.500 234,868 C232,874 230.500,880 230,886 C229,894 229,902 230,910 C231,915 233,920 235,925 C238,933 241,940.500 245,947.500 C249.500,955 254.500,961.500 260,967.500 C264.500,971 269.500,973.500 275,975"/><path d="M324,825 C319,827 314,829 310,831 C306,833.500 303,836 300,839 C297,841.500 294,844 292,847 C289.500,851 288,855 287.500,859 C287.500,863.500 289,868 290.500,872.500 C292,877.500 294,882.500 296.500,887.500 C298.500,891 301,894.500 304,898 C310,904.500 317.500,910.500 325,916 C330,919.500 335,923 340,926.500 C347,933 353.500,940.500 360,947.500 C364,951 368.500,954.500 372.500,957.500"/><path d="M268,822 C265,825 262.500,828.500 260.500,832 C258,838 256.500,844 256,850 C256,856 257,862 259,868 C261.500,874 265,879.500 269.500,884.500 C275,890 281,895 287.500,899.500 C295,905 302.500,910.500 310,916 C317,920 324,924 331,928" stroke-width=".9"/><path d="M290,804 C294,800 298,796.500 302,794 C305,792.500 308,792.500 310,794 C309.500,797 309,799.500 308,802"/><path d="M306,831 C303,833 300.500,835.500 298,838 C294,842 291,846 288,850 C286.500,853.500 286,857 286,860 C290,859 293,857 296,854 C299,851 302,847.500 304,844 C305.500,840.500 306.500,837 307,834 Z"/><path d="M289,857 L303,836 M291,852 L305,838 M294,850 L306,842" stroke-width=".8"/><path d="M219,855 C220.500,861.500 222,868 224,874 C225.500,878 227,881 229,884 M219,855 C221.500,856.500 224,858 226,860 C228,863 229.500,866.500 231,870"/><path d="M274,852 C276,850.500 278,850 280,850 C284,856 287.500,863 290,870 C293,878 295,886 296,894 M280,850 C282,860 284,872 288,884 C290,890 292,896 296,900"/><path d="M317.500,930 C311,928.500 304,928.500 297.500,929 C291.500,930 286.500,932 282.500,935 C278.500,939.500 276,944.500 275,950 C274.500,955 275,960 276,965 C277.500,969.500 279.500,974 282.500,977.500 C287,982 292,986 297.500,989 C303,991.500 309,993 315,994"/><path d="M288,935 C284,942 282.500,948 283,954 C284,961 287,967 290,972 C295,978 301,983 307,986 C311,988 315,989 319,990" stroke-width=".9"/><path d="M300,962 C304,968 308,973 314,977 C318,979.500 322,981 326,981" stroke-width=".9"/><path d="M317.500,927.500 C325,929 333,931.500 340,935 C347,939.500 354,944.500 360,950"/><path d="M325,980 C332,978 340,976.500 347.500,976 C355,975.500 363,975.500 370,975 C376,973.500 381,971.500 385,969 C387,970 387,972 386,974 C385,977 383,980 381,985 C378,989.500 375.500,992.500 372.500,995 C367,997.500 361,999.500 355,1000 C348,1000.500 341.500,1000.500 335,1000 C328,998.500 321.500,996.500 315,994"/><path d="M327.500,987.500 C335,986 342.500,985.500 350,985 C357.500,984.500 365.500,984 372.500,982.500 C376.500,980.500 380,978 382.500,975"/><path d="M372.500,957.500 C376,960.500 379.500,964 382.500,967.500"/><path d="M385,971 C389.500,971.500 394,973 397.500,975 C401.500,977.500 404.500,981 406,985 C407.500,989 407,992.500 405,995 C402.500,997 400,997 397.500,996"/><path d="M332.500,982.500 C328,986 324,990.500 320,995 C315,1001.500 310.500,1008.500 305,1015 C299,1021 292.500,1025.500 285,1027.500 C277,1029.500 268,1030.500 260,1030 C254,1028.500 250.500,1026 250,1022.500 C250,1020 251.500,1018 253.750,1017.500"/><path d="M335,983.500 C330.500,988 326.500,993 323,998 C318,1004.500 313.500,1011 308,1017" stroke-width=".8"/><path d="M360,1000 C360,1005 359,1009 357.500,1012.500 C355.500,1015.500 353,1017.500 350,1019 M364,999.500 C364.500,1004 364.500,1009 363.500,1014 M368,998 C370,1001 372,1004 373,1008 M356,1000.500 C355,1006 352,1012 347,1017" stroke-width=".9"/><path d="M282.500,977.500 C272,973 261,970 250,970 C243,977 237,985 232.500,994 C237,997 242,998 247.500,997.500 C256,995 265,991.500 272.500,987.500 C276.500,985 280,981.500 282.500,977.500 Z"/><path d="M276,979 L240,984 M276,981 L236,990 M275,983 L240,996 M273,985 L252,996 M268,974.500 L246,976" stroke-width=".8"/></g><circle cx="315.750" cy="967.500" r="5.600" stroke="#fff6f0" stroke-width="1.100"/><circle cx="315.750" cy="967.500" r="2.900" fill="#fff6f0"/><path d="M304.6,813.2l-0.3,-5.3M300.6,809.8l-1.1,-2.3M299.7,817.6l-3.8,-4.2M312.2,822.8l-1.5,-4.1M320.4,819.0l-0.3,-3.5M308.0,827.6l-3.4,-4.0M310.8,826.9l-0.3,-2.5M317.0,821.0l-0.7,-5.9M308.8,806.3l-1.2,-4.2M310.6,806.3l-0.2,-4.9M304.3,825.6l-2.4,-2.9M319.4,823.3l-1.2,-3.4M316.7,810.1l-2.0,-3.1M303.7,820.6l-1.5,-3.3M310.1,829.3l-4.2,-4.1M301.2,811.7l-0.5,-2.5M310.9,814.8l-1.8,-1.8M310.9,805.9l-0.7,-3.1M296.8,810.5l-1.9,-3.2M306.1,811.8l-0.6,-2.8M300.2,811.6l-0.2,-2.6M318.0,817.4l-0.4,-4.6M308.2,807.4l-2.4,-3.7M315.5,822.8l-1.8,-2.1M300.9,807.8l-2.2,-2.2M300.2,820.7l-2.3,-3.2M304.3,811.1l-1.9,-3.6M313.6,805.9l-1.1,-2.4M307.0,829.0l-0.3,-5.1M304.0,812.2l-1.3,-2.6M312.5,807.9l-1.6,-3.2M296.5,813.1l-2.6,-5.3M307.3,812.5l-2.3,-3.5M314.3,824.3l-0.1,-3.8M299.6,818.3l-2.2,-3.6M318.6,818.7l-0.6,-5.2M309.1,810.4l-1.4,-5.0M303.7,813.0l-1.0,-3.7M313.3,816.1l-1.4,-5.0M308.9,806.7l-1.7,-4.5M317.6,812.7l-0.9,-3.2M306.9,810.5l-0.9,-4.7M292.6,822.1l-1.7,-4.8M289.4,817.6l-2.4,-5.0M277.0,821.0l-2.4,-3.6M292.6,815.9l-3.4,-4.7M285.7,823.9l-3.8,-3.3M286.6,828.3l-3.0,-3.8M285.9,821.9l-2.0,-4.3M305.1,829.4l-1.9,-3.6M294.0,819.8l-3.9,-2.7M297.3,833.2l-2.1,-1.7M300.4,832.4l-2.6,-1.8M294.9,829.5l-2.3,-4.0M290.3,815.1l-1.6,-1.9M297.4,826.7l-1.0,-2.7M301.8,836.4l-3.7,-2.8M294.3,831.4l-1.1,-4.4M288.7,832.6l-2.5,-4.7M300.2,833.9l-2.4,-3.9M277.1,820.5l-3.1,-3.5M294.6,843.8l-1.5,-2.5M296.5,837.0l-1.3,-4.5M295.5,827.3l-2.3,-2.4M287.0,835.4l-1.6,-5.6M294.8,833.9l-3.4,-4.9M296.7,830.4l-3.4,-4.9M296.2,825.3l-1.4,-2.6M296.6,831.3l-1.8,-4.9M299.7,821.0l-0.9,-3.3M292.2,836.4l-2.6,-2.2M288.2,837.7l-2.7,-3.8M288.4,826.2l-4.0,-3.1M291.6,834.8l-2.9,-3.2M295.2,824.2l-2.7,-3.1M287.0,827.6l-1.9,-1.8M286.4,816.9l-3.0,-4.7M296.0,815.6l-2.1,-3.4M286.9,826.2l-1.1,-4.0M296.0,828.3l-4.1,-3.6M290.5,817.3l-0.9,-2.6M290.4,830.9l-1.3,-3.3M292.0,840.5l-2.2,-3.5M295.2,831.1l-1.5,-2.6M285.3,854.4l-1.7,-2.9M270.2,838.8l-1.5,-2.1M258.6,832.1l-4.5,-2.0M281.0,850.9l-2.0,-4.3M284.7,851.2l-1.5,-3.2M280.2,832.1l-3.4,-1.9M287.9,852.1l-2.2,-1.8M293.3,843.2l-2.5,-3.7M282.9,853.7l-3.2,-2.4M277.1,840.7l-4.5,-3.7M279.5,829.0l-1.9,-2.4M268.1,829.3l-2.8,-3.4M280.0,834.8l-1.9,-2.8M286.8,848.2l-2.6,-2.1M283.3,850.4l-3.1,-3.9M279.8,830.0l-2.5,-1.3M283.4,846.8l-4.0,-3.9M273.5,829.9l-1.5,-2.1M291.5,840.9l-3.5,-4.7M290.4,844.2l-3.6,-4.7M283.3,852.7l-3.7,-2.9M285.3,839.4l-3.7,-2.9M288.2,846.2l-3.3,-4.2M275.9,844.9l-3.8,-3.9M275.1,838.5l-3.9,-3.3M293.6,844.1l-2.9,-1.3M273.6,844.8l-4.8,-1.9M269.2,829.4l-3.5,-3.1M288.2,848.3l-2.7,-1.5M282.4,840.2l-4.9,-2.7M286.4,841.0l-2.5,-1.8M282.0,836.1l-1.1,-2.4M269.5,827.1l-3.0,-3.9M267.8,828.1l-1.8,-2.3M276.8,832.4l-4.4,-2.5M292.7,845.9l-3.0,-1.4M268.2,826.6l-3.0,-2.2M283.8,843.9l-2.9,-4.1M288.3,840.5l-2.0,-4.4M278.0,842.8l-5.5,-2.3M277.7,827.3l-3.6,-1.6M265.5,827.8l-3.4,-2.7M285.8,854.7l-5.0,-2.6M282.3,869.1l-3.3,-0.4M284.7,860.0l-3.1,-1.4M285.5,858.6l-1.7,-2.0M270.2,848.0l-3.4,-1.9M277.6,850.1l-2.5,-1.4M260.8,857.3l-5.3,-1.4M270.4,845.0l-3.6,-2.2M264.4,848.7l-3.4,-3.7M271.3,851.1l-5.2,-1.4M277.4,850.7l-2.1,-1.8M272.8,861.7l-2.9,-0.5M284.6,857.0l-3.4,-2.1M285.4,857.4l-4.9,-0.6M277.8,852.5l-3.8,-0.6M275.4,855.4l-4.4,-2.6M258.8,855.7l-4.4,-2.7M256.9,846.0l-3.2,-3.6M258.5,852.3l-2.5,-2.3M282.2,858.4l-2.7,-0.6M263.6,846.1l-3.5,-0.5M263.7,855.8l-2.6,-0.3M275.8,850.1l-3.6,-4.1M277.2,860.1l-3.7,-1.5M286.7,859.8l-3.3,-3.1M281.7,864.7l-4.2,-1.0M268.4,857.3l-4.3,-3.8M277.2,850.6l-5.1,-2.5M270.6,853.2l-3.5,-3.9M250.3,844.2l-4.5,-0.8M268.7,859.4l-1.7,-2.1M269.0,844.6l-2.9,-3.0M279.1,856.9l-3.4,-0.9M272.8,856.8l-4.9,-1.4M278.2,855.6l-4.3,-4.1M260.6,855.8l-3.8,-0.8M265.8,858.2l-2.6,-0.6M263.7,843.0l-5.5,-1.4M272.5,861.1l-3.5,-3.4M255.7,848.8l-3.8,-0.4M264.7,851.5l-2.9,-1.2M286.3,859.3l-3.3,-1.4M254.1,867.1l-3.5,-1.7M242.9,871.8l-4.8,-1.0M249.5,867.8l-3.7,-0.5M262.5,870.9l-3.4,1.0M270.7,861.9l-4.4,-1.2M272.9,872.1l-5.7,0.7M284.2,872.8l-5.0,-1.0M243.8,874.2l-4.6,-1.6M258.2,871.6l-3.2,-0.2M276.2,875.2l-5.9,-0.6M287.2,867.8l-3.8,0.7M244.4,869.3l-5.6,-0.9M282.2,867.4l-4.9,-0.5M269.6,871.9l-5.5,0.9M274.8,865.6l-4.3,-1.7M257.9,862.4l-5.1,0.8M261.1,860.9l-5.0,-1.9M267.6,872.0l-4.0,-0.3M273.1,875.2l-3.4,-0.5M278.7,876.5l-2.5,0.6M258.8,868.8l-3.1,0.6M256.7,869.2l-4.8,-1.2M264.8,861.1l-4.9,-2.3M247.5,864.1l-4.4,-1.9M254.9,863.2l-5.4,-0.2M278.2,862.6l-2.9,0.8M258.7,862.2l-2.8,-0.8M248.3,870.9l-5.2,-1.2M241.0,873.5l-4.3,-2.0M282.3,862.9l-2.7,0.5M265.8,866.2l-4.7,-1.2M268.6,861.7l-4.4,0.2M259.6,861.7l-3.7,-0.8M241.8,866.6l-5.6,1.6M252.8,871.6l-3.4,0.9M270.7,868.2l-4.7,-2.0M273.7,866.8l-4.1,-0.9M259.8,872.5l-3.5,0.2M262.5,873.6l-2.7,0.0M256.3,863.4l-2.7,0.3M265.1,861.7l-5.9,-0.6M243.5,865.0l-2.8,0.1M291.0,882.5l-4.9,1.8M275.3,873.0l-3.9,1.4M287.2,878.5l-3.2,-0.4M266.4,882.4l-2.6,1.1M257.8,893.3l-3.5,2.4M251.3,885.3l-4.0,0.7M259.7,891.9l-3.9,2.7M250.4,879.3l-3.9,-0.2M246.1,894.0l-3.8,-0.6M247.0,892.6l-3.0,0.1M242.0,888.2l-5.3,2.7M276.1,879.6l-3.8,1.7M284.5,881.7l-3.0,0.9M269.3,875.4l-5.6,-0.4M287.3,873.0l-5.4,-0.7M283.5,880.8l-3.3,-0.3M290.3,884.9l-3.0,0.9M252.0,883.0l-3.8,0.1M263.0,878.3l-5.9,0.5M282.3,872.4l-4.5,1.6M265.8,881.3l-4.5,-0.6M260.9,880.4l-3.3,0.7M284.3,882.9l-4.2,0.3M250.3,879.1l-3.9,0.9M251.4,889.0l-2.6,0.7M268.9,874.9l-3.0,2.2M266.9,879.8l-4.8,-0.5M263.3,882.0l-5.0,-0.5M242.9,896.9l-3.1,1.7M288.0,885.3l-4.1,0.2M270.8,882.8l-5.3,2.3M249.4,888.5l-2.8,1.1M262.0,884.4l-3.1,0.9M283.3,871.7l-3.2,1.9M278.9,888.2l-3.5,0.1M278.0,884.6l-5.3,0.8M258.6,883.5l-3.0,1.4M269.8,888.9l-4.9,2.7M285.4,872.5l-5.0,1.0M285.2,870.4l-5.2,1.3M289.6,883.9l-3.9,2.4M260.7,888.6l-4.1,2.1M292.2,893.3l-2.4,1.2M286.0,879.6l-3.6,2.0M267.1,910.1l-2.4,1.3M290.8,892.1l-3.5,3.7M290.7,880.7l-4.2,2.9M277.5,902.9l-2.0,2.3M251.3,908.1l-1.9,2.6M288.0,883.8l-3.5,2.0M286.8,890.9l-2.4,1.8M276.1,899.3l-4.3,1.3M278.2,886.4l-3.5,2.4M273.8,905.4l-3.7,3.0M261.3,911.9l-2.1,2.8M275.6,890.6l-3.9,4.1M267.6,904.1l-3.5,4.7M281.4,897.3l-2.5,1.4M272.2,905.4l-2.6,0.6M265.3,900.6l-3.5,3.7M278.2,891.9l-1.6,2.3M277.9,898.7l-3.1,4.6M283.3,886.0l-5.4,2.2M275.8,904.0l-2.2,1.8M288.9,880.4l-3.2,3.2M267.7,893.1l-5.6,1.5M288.0,886.1l-3.1,4.2M289.5,886.6l-5.0,3.3M280.8,890.7l-4.3,1.1M283.3,888.7l-4.1,1.2M265.4,900.5l-4.1,3.9M274.0,903.4l-1.7,2.5M277.8,903.4l-3.9,1.1M272.8,899.3l-3.2,1.4M270.9,893.9l-4.4,2.6M280.8,884.3l-4.5,2.1M247.4,907.4l-1.9,2.3M270.2,890.9l-4.4,1.5M260.5,899.4l-2.4,1.5M275.6,890.5l-2.4,1.2M257.3,900.8l-3.1,1.9M273.9,899.9l-5.3,1.6M276.8,890.3l-3.4,4.4M274.8,894.6l-3.6,4.7M278.1,922.1l-1.5,4.8M295.6,909.9l-4.1,3.7M272.2,922.3l-2.7,4.1M286.9,914.0l-3.6,3.5M298.2,902.6l-1.3,4.0M279.7,924.1l-1.8,5.1M285.0,910.7l-1.3,2.6M279.9,929.0l-2.8,1.9M289.4,908.8l-2.2,4.2M296.1,890.3l-3.4,3.4M287.1,914.1l-2.1,3.4M291.0,909.4l-3.6,2.8M277.3,917.1l-1.3,2.4M299.2,902.8l-0.8,2.6M299.4,900.4l-2.5,3.2M288.7,913.9l-1.4,4.1M279.9,924.0l-3.9,2.6M278.8,920.1l-3.9,3.8M264.8,919.7l-2.7,5.3M282.9,899.8l-1.6,2.3M287.0,895.7l-1.5,2.0M273.8,917.0l-1.6,3.5M278.4,930.2l-2.3,4.4M284.0,908.1l-1.3,3.7M274.9,920.2l-4.1,2.7M278.4,922.6l-4.8,2.8M290.4,911.6l-3.6,3.2M282.7,923.1l-1.8,3.6M289.2,899.8l-3.9,2.9M278.5,908.6l-3.1,4.5M274.8,910.1l-1.5,3.4M296.4,890.4l-1.8,2.4M294.1,887.9l-3.9,2.1M293.7,909.0l-2.1,5.3M294.6,888.5l-1.9,1.9M288.1,913.4l-3.3,4.2M286.4,919.9l-1.9,4.0M284.6,908.0l-2.5,4.7M271.0,920.2l-1.8,2.0M274.7,913.8l-1.7,4.2M289.8,910.5l-3.0,2.0M293.5,907.7l-1.9,4.5M308.1,907.5l-3.7,3.0M310.7,907.6l-2.2,3.7M305.5,909.0l-1.7,3.0M287.6,924.4l-1.3,3.1M296.8,910.4l-2.2,5.3M295.8,912.1l-1.3,5.7M302.7,909.9l-2.5,4.2M283.6,931.8l-2.4,2.8M289.5,934.9l-0.9,2.5M300.6,911.2l-2.9,4.6M296.0,920.8l-3.1,4.5M294.3,927.2l-2.2,4.1M305.7,908.1l-3.1,2.6M298.6,915.1l-2.7,3.7M294.7,916.7l-1.0,5.0M286.3,927.8l-1.2,5.5M288.9,922.6l-2.2,2.7M292.2,915.7l-1.3,2.8M301.4,924.4l-4.1,3.7M292.9,935.3l-1.6,2.7M292.9,924.8l-2.2,1.9M290.1,931.0l-4.6,3.6M288.8,933.9l-1.6,5.8M297.7,932.3l-1.5,3.8M295.5,915.4l-2.7,5.1M291.9,924.0l-2.4,3.2M302.6,914.0l-1.9,1.8M306.6,914.9l-2.5,3.4M289.8,936.3l-2.1,4.8M293.5,924.5l-2.4,1.9M291.4,917.4l-1.9,2.9M298.0,906.9l-4.2,4.2M295.2,917.6l-0.7,2.5M282.4,937.1l-1.3,3.4M301.0,902.7l-4.1,4.4M298.4,937.3l-1.9,4.9M298.7,910.1l-0.8,2.6M302.3,924.0l-1.0,2.3M296.9,937.3l-3.4,3.7M304.0,928.1l-2.2,3.1M305.8,902.8l-1.7,3.0M302.5,902.3l-1.5,3.0M354.4,954.3l2.9,3.8M320.9,943.8l2.4,3.2M341.2,957.7l3.2,4.3M319.2,936.5l1.8,2.4M338.0,938.8l1.8,2.4M319.6,938.9l2.2,2.9M343.2,949.5l2.3,3.1M338.5,953.1l3.1,4.2M331.7,958.1l2.9,3.9M312.1,946.0l2.8,3.7M322.5,946.3l2.7,3.7M336.4,950.2l3.0,4.0M320.3,940.4l2.6,3.5M339.1,951.3l2.0,2.7M329.0,948.8l2.2,2.9M301.4,947.0l2.3,3.1M302.0,940.1l2.1,2.8M305.2,942.6l3.1,4.1M314.9,940.4l3.4,4.5M328.7,939.7l2.7,3.6M331.5,936.5l3.0,4.0M346.9,946.3l2.8,3.7M350.1,960.7l2.9,3.9M302.9,947.2l3.0,4.0M321.5,952.5l2.5,3.3M340.1,950.4l3.0,4.0M360.2,953.2l3.1,4.1M339.9,950.6l1.9,2.5M332.0,947.7l3.1,4.1M349.7,946.0l3.5,4.7M328.8,949.0l3.6,4.8M321.0,953.4l3.5,4.7M342.4,948.2l3.2,4.3M331.6,950.5l3.1,4.1M362.3,956.1l3.3,4.4M304.2,944.8l3.4,4.6M361.5,954.7l2.4,3.2M350.0,948.0l3.0,4.0M341.4,958.0l3.1,4.1M332.1,951.7l2.8,3.7M320.7,947.0l1.9,2.5M318.0,941.0l3.3,4.3M315.7,952.0l2.8,3.8M321.4,939.8l2.5,3.3M300.0,935.6l2.1,2.8M320.4,955.1l3.5,4.7M323.0,939.5l2.3,3.1M340.9,946.4l2.0,2.7M334.0,940.1l2.1,2.7M328.6,955.0l2.8,3.7M300.2,939.8l3.6,4.8M346.6,954.1l3.3,4.3M300.4,941.2l2.6,3.5M359.1,959.2l2.1,2.8M319.8,934.5l2.6,3.4M333.8,945.6l2.4,3.1M320.0,955.3l2.2,3.0M327.5,935.1l2.2,3.0M334.0,952.2l3.0,4.0M333.9,943.0l2.1,2.8M301.9,935.6l2.5,3.4M321.9,939.0l2.4,3.2M332.0,938.3l3.3,4.4M331.4,934.1l2.0,2.6M357.9,949.3l2.3,3.1M357.8,960.1l3.0,4.0M303.3,944.8l3.3,4.4M338.6,938.3l2.2,3.0M304.1,947.7l2.1,2.8M329.0,958.9l3.4,4.6M332.0,955.5l2.0,2.7M361.6,958.0l2.7,3.6M360.1,957.1l3.5,4.6M318.2,951.7l3.4,4.6M322.6,942.4l2.1,2.8M314.6,947.5l2.5,3.3M317.4,944.4l3.5,4.7M338.8,954.6l3.5,4.6M306.2,937.9l3.1,4.2" stroke="#fff6f0" stroke-width=".7" opacity=".85"/></svg><!--FISH2E-->

<div class="yl" style="top:772.2px">2014</div>
<div class="yl" style="top:836.4px">2016</div>
<div class="yl" style="top:900.6px">2018</div>
<div class="yl" style="top:964.8px">2020</div>
<div class="yl" style="top:1028.2px;left:68.7px;letter-spacing:.8px">2022</div>

<div class="val" style="left:560.5px;top:770.5px;transform:scaleX(1.025);transform-origin:0 0">176800</div>
<div class="val" style="left:704px;top:1032.5px;transform:scaleX(1.115);transform-origin:0 0">240000</div>

<div class="xl" style="left:76px">0</div>
<div class="xl" style="left:193px">50,000</div>
<div class="xl" style="left:310px">100,000</div>
<div class="xl" style="left:426px">150,000</div>
<div class="xl" style="left:543px">200,000</div>
<div class="xl" style="left:660px">250,000</div>

<div class="banner" id="b2"></div>
<div class="t" id="b2a" style="left:79px;top:1142.5px;font-size:37.2px;color:#fbf3ea">对世界各地区和国家的越南查鱼出口金额</div>
<div class="t cj" id="b2b" style="left:242.5px;top:1184px;font-size:37.2px;color:#fbf3ea">（<span style="font-family:'Liberation Sans',sans-serif;font-weight:700;font-size:41px;letter-spacing:.5px">2022</span>年前<span style="display:inline-block;width:27px;height:30px;font-family:'Liberation Sans',sans-serif;font-weight:700;font-size:41px;line-height:30px"><span style="display:inline-block;transform:scaleX(.66);transform-origin:0 50%;margin-left:-2px;-webkit-text-stroke:.7px #fbf3ea">11</span></span>个月）</div>
<div class="panel" id="p2"></div>
<!--CRANES--><svg class="abs" style="left:12px;top:1257.5px" width="788" height="444" viewBox="12 1257.5 788 444" fill="none" stroke-linecap="round" stroke-linejoin="round"><g stroke="#ffc5c0"><rect x="168" y="1260.500" width="12.500" height="9.500" rx="3.500" stroke-width="2.600"/><path d="M166,1274 C172,1272 180,1271 186,1271.500" stroke-width="6"/><path d="M166,1277.5L45,1578" stroke-width="3.4"/><path d="M168.7,1279L54,1581" stroke-width="2.8"/><path d="M171,1279L123.5,1512" stroke-width="2.9"/><path d="M173.7,1279L134.6,1512" stroke-width="2.9"/><path d="M176,1279L276,1453" stroke-width="2.9"/><path d="M180,1277.5L286,1436" stroke-width="2.9"/><path d="M183.7,1275L360,1396" stroke-width="2.9"/><path d="M186,1273.7L360,1383" stroke-width="2.9"/><path d="M47,1581 L47,1670" stroke-width="5.500"/><path d="M52.500,1590 L52.500,1662" stroke-width="1.500"/><path d="M47,1580 L165,1504.500 L200,1482" stroke-width="6.500"/><path d="M57.5,1572.6L57.5,1658.7M64.9,1567.9L64.9,1657.0M72.3,1563.2L72.3,1655.3M79.7,1558.4L79.7,1653.5M87.1,1553.7L87.1,1651.8M94.5,1549.0L94.5,1650.0M101.9,1544.2L101.9,1648.3M109.3,1539.5L109.3,1646.6M116.7,1534.8L116.7,1644.8M124.1,1530.0L124.1,1643.1M131.5,1525.3L131.5,1641.3M138.9,1520.5L138.9,1639.6M146.3,1515.8L146.3,1637.9M153.7,1511.1L153.7,1636.1M161.1,1506.3L161.1,1634.4M168.5,1501.6L168.5,1632.7M175.9,1496.9L175.9,1630.9M183.3,1492.1L183.3,1629.2M190.7,1487.4L190.7,1627.4M198.1,1482.7L198.1,1625.7M205.5,1477.9L205.5,1624.0M212.9,1473.2L212.9,1622.2M220.3,1468.4L220.3,1620.5M227.7,1463.7L227.7,1618.7M235.1,1459.0L235.1,1617.0M242.5,1454.2L242.5,1615.3" stroke-width="3.200" stroke-linecap="butt"/><path d="M50,1662.500 L260,1618" stroke-width="2.500"/><path d="M50,1668 L300,1617" stroke-width="4"/><path d="M46,1671 L127.500,1680 L230,1665.500 L407,1639.500" stroke-width="5"/><path d="M72,1669.500 L230,1645 L330,1628" stroke-width="2.500"/><path d="M405.500,1598 L405.500,1639" stroke-width="3.500"/><path d="M392,1610 L392,1625 M398,1605 L398,1630" stroke-width="2"/><path d="M340,1634 L398,1631 M335,1640 L405,1637" stroke-width="2.500"/></g></svg><!--CRANEE-->

<svg class="abs" style="left:0;top:1257px" width="800" height="445" viewBox="0 1257 800 445">
<g transform="translate(306,1496)"><circle r="141.8" fill="#5e0066"/><path d="M0,0L0.00,-141.80A141.8,141.8 0 0 1 60.38,128.30Z" fill="#d93366"/><path d="M0,0L0.00,-141.80A141.8,141.8 0 0 1 68.31,-124.26Z" fill="#ff6b5e"/><path d="M0,0L103.37,97.07A141.8,141.8 0 0 1 60.38,128.30Z" fill="#a0006d"/></g>
<circle cx="307" cy="1495" r="64.2" fill="#ffc6c0"/>
<!--ICONS--><g transform="translate(236,1426) scale(0.175)" fill="none" stroke="#2b2b5c" stroke-width="12.500" stroke-linejoin="round" stroke-linecap="round">
<path d="M393,488 L308,335 C295,312 288,290 288,265 C288,205 335,158 393,158 C451,158 498,205 498,265 C498,290 491,312 478,335 Z"/>
<circle cx="393" cy="265" r="72"/>
<rect x="360" y="232" width="67" height="66"/>
<path d="M393,232 V250"/>
<ellipse cx="393" cy="492" rx="68" ry="38"/>
<path d="M340,462 L212,393 M446,462 L578,393 M338,522 L212,595 M448,522 L578,595"/>
<path d="M157,353 L221,351 L186,414 Z"/>
<path d="M569,353 L632,353 L603,413 Z"/>
<path d="M186,570 L155,630 L222,630 Z"/>
<path d="M603,570 L568,630 L632,630 Z"/>
</g><!--ICONE-->
</svg>

<div class="pl" style="left:331.7px;top:1290px">东盟</div>
<div class="pn" style="left:337px;top:1320px">8<i>%</i></div>
<div class="pl" style="left:469.3px;top:1440.8px">中国</div>
<div class="pn" style="left:468.3px;top:1471px">29<i>%</i></div>
<div class="pl" style="left:39.3px;top:1510.8px">其他市场</div>
<div class="pn" style="left:60.3px;top:1541px">57<i>%</i></div>
<div class="pl" style="left:416.7px;top:1620.8px">中东地区</div>
<div class="pn" style="left:442.8px;top:1651px">6<i>%</i></div>

<div class="big" style="left:406px;top:1306px"><b style="transform:scaleX(1.085);margin-right:8.3px">18300</b>万美元</div>
<div class="big" style="left:534px;top:1508px"><b style="transform:scaleX(1.155);margin-right:15.2px">70000</b>万美元</div>
<div class="big" style="left:537px;top:1653px"><b style="transform:scaleX(1.08);margin-right:7.8px">12900</b>万美元</div>

<!--MAPS--><svg class="abs" style="left:170px;top:1703px" width="480" height="250" viewBox="170 1703 480 250"><path d="M190.7,1749.0L198.1,1741.0L205.6,1739.0L224.2,1741.0L240.3,1741.0L256.4,1743.0L265.1,1745.0L281.2,1736.6L287.4,1743.0L297.3,1741.0L299.8,1753.0L291.1,1753.0L283.7,1759.0L283.7,1764.6L293.6,1770.0L297.3,1775.4L301.0,1775.4L302.3,1766.4L303.5,1757.0L312.2,1757.0L318.4,1761.0L322.1,1766.4L329.6,1775.4L324.6,1779.0L317.2,1779.0L312.2,1784.4L318.4,1788.0L323.4,1786.2L317.2,1789.8L312.2,1791.6L311.0,1795.2L307.2,1797.0L304.8,1802.0L304.8,1805.2L299.8,1810.2L298.6,1816.8L299.8,1821.8L297.3,1820.1L296.1,1815.2L293.6,1813.5L288.6,1813.5L282.4,1815.2L278.7,1818.5L278.7,1826.7L281.2,1831.5L286.2,1831.5L287.4,1828.3L291.1,1828.3L289.9,1834.7L294.8,1837.8L296.1,1844.0L299.8,1847.0L303.5,1848.6L299.8,1850.2L296.1,1848.6L292.4,1844.0L289.9,1840.8L284.9,1839.3L281.2,1836.2L275.0,1834.7L268.8,1830.0L267.6,1825.0L262.6,1818.5L258.9,1811.8L256.4,1813.5L260.1,1820.1L262.6,1825.0L260.1,1821.8L256.4,1816.8L253.9,1810.2L250.2,1806.9L246.5,1800.3L245.2,1793.4L245.2,1784.4L241.5,1779.0L236.6,1771.8L231.6,1764.6L225.4,1761.0L216.7,1759.0L210.5,1762.8L203.1,1766.4L195.6,1770.0L200.6,1764.6L198.1,1761.0L193.2,1757.0L198.1,1753.0L190.7,1749.0ZM308.5,1722.0L317.2,1716.3L327.1,1710.7L349.4,1707.8L368.0,1710.7L376.7,1716.3L374.2,1729.3L371.7,1739.0L365.5,1745.0L356.8,1749.0L349.4,1751.0L345.7,1761.0L339.5,1759.0L334.5,1751.0L332.0,1743.0L327.1,1729.3L314.7,1726.9L308.5,1722.0ZM299.8,1734.1L309.7,1731.7L318.4,1741.0L322.1,1749.0L317.2,1755.0L309.7,1753.0L302.3,1745.0L293.6,1741.0L299.8,1734.1ZM252.7,1736.6L268.8,1734.1L275.0,1741.0L262.6,1745.0L252.7,1741.0ZM244.0,1736.6L250.2,1731.7L256.4,1734.1L252.7,1739.0ZM287.4,1724.4L293.6,1713.5L312.2,1707.8L322.1,1710.7L309.7,1719.2L299.8,1726.9L289.9,1726.9ZM280.0,1729.3L289.9,1726.9L299.8,1729.3L287.4,1731.7ZM299.5,1848.6L305.7,1842.4L311.9,1844.0L318.1,1845.5L324.3,1851.7L330.5,1853.2L333.0,1859.5L335.5,1862.5L340.4,1865.5L346.6,1867.0L351.6,1870.0L351.6,1874.5L347.9,1880.5L346.6,1888.0L344.2,1893.8L339.2,1896.6L335.5,1899.4L334.2,1903.6L330.5,1909.2L326.8,1912.0L324.3,1915.2L318.1,1918.4L314.4,1921.6L314.4,1928.0L310.7,1933.4L309.4,1940.6L310.7,1946.0L305.7,1942.4L302.0,1937.0L303.2,1928.0L304.5,1920.0L305.7,1912.0L307.0,1905.0L308.2,1898.0L308.2,1888.0L302.0,1883.5L299.5,1879.0L295.8,1870.0L294.6,1867.0L295.8,1862.5L298.3,1857.9L299.5,1853.2L299.5,1848.6ZM387.8,1802.0L387.8,1791.6L396.5,1791.6L397.8,1786.2L394.0,1782.6L401.5,1777.2L404.0,1773.6L408.9,1771.8L408.9,1766.4L412.6,1768.2L413.9,1771.8L416.4,1771.8L422.6,1771.8L425.0,1766.4L428.8,1764.6L427.5,1761.0L435.0,1761.0L430.0,1761.0L426.3,1761.0L425.0,1755.0L430.0,1751.0L426.3,1749.0L421.3,1755.0L420.1,1761.0L418.8,1766.4L415.1,1768.2L412.6,1762.8L406.4,1764.6L405.2,1757.0L411.4,1753.0L416.4,1745.0L423.8,1741.0L433.7,1739.0L438.7,1741.0L448.6,1747.0L453.6,1749.0L442.4,1753.0L448.6,1753.0L453.6,1745.0L466.0,1745.0L473.4,1743.0L483.3,1743.0L489.5,1736.6L498.2,1734.1L510.6,1729.3L529.2,1722.0L539.1,1731.7L554.0,1734.1L566.4,1736.6L575.1,1734.1L587.5,1739.0L597.4,1741.0L609.8,1741.0L619.7,1743.0L634.6,1749.0L624.7,1753.0L619.7,1757.0L609.8,1761.0L601.1,1764.6L599.9,1770.0L593.7,1777.2L592.4,1766.4L591.2,1762.8L585.0,1762.8L576.3,1762.8L570.1,1770.0L573.8,1773.6L572.6,1782.6L566.4,1789.8L560.2,1793.4L557.7,1798.7L556.5,1803.6L559.0,1805.2L555.2,1806.9L555.2,1802.0L554.0,1798.7L550.3,1797.0L545.3,1798.7L550.3,1802.0L547.8,1805.2L549.0,1811.8L550.3,1815.2L546.6,1821.8L541.6,1825.0L535.4,1828.3L532.9,1828.3L530.4,1831.5L532.9,1837.8L534.2,1842.4L530.4,1847.0L529.2,1845.5L525.5,1842.4L523.0,1840.8L523.0,1847.0L526.7,1853.2L528.0,1859.5L525.5,1857.9L523.0,1853.2L520.5,1848.6L520.5,1842.4L519.3,1836.2L515.6,1834.7L513.1,1828.3L510.6,1826.7L506.9,1828.3L504.4,1831.5L498.2,1837.8L498.2,1844.0L495.7,1848.6L493.2,1845.5L490.8,1837.8L489.5,1830.0L485.8,1828.3L482.1,1823.4L475.9,1821.8L469.7,1821.8L468.4,1818.5L463.5,1816.8L461.0,1813.5L458.5,1813.5L462.2,1820.1L463.5,1823.4L467.2,1821.8L468.4,1823.4L472.2,1826.7L469.7,1833.1L463.5,1836.2L454.8,1840.8L452.3,1840.8L451.1,1836.2L447.4,1828.3L443.6,1820.1L441.2,1816.8L442.4,1813.5L442.4,1808.5L443.6,1803.6L438.7,1803.6L433.7,1803.6L431.2,1798.7L432.5,1795.2L435.0,1795.2L439.9,1793.4L446.1,1795.2L449.8,1793.4L447.4,1789.8L444.9,1788.0L439.9,1788.0L437.4,1786.2L435.0,1789.8L433.7,1793.4L428.8,1797.0L427.5,1800.3L426.3,1802.0L425.0,1798.7L422.6,1795.2L422.6,1793.4L417.6,1789.8L415.1,1788.0L413.9,1789.8L416.4,1793.4L418.8,1795.2L421.3,1797.0L418.8,1798.7L418.8,1800.3L417.6,1797.0L413.9,1793.4L411.4,1789.8L407.7,1789.8L402.7,1791.6L402.7,1793.4L399.0,1797.0L399.0,1800.3L396.5,1802.0L392.8,1803.6L387.8,1802.0ZM391.6,1805.2L396.5,1805.2L402.7,1802.0L411.4,1802.0L412.6,1808.5L417.6,1810.2L423.8,1811.8L423.8,1808.5L430.0,1810.2L436.2,1811.8L439.9,1811.8L442.4,1816.8L444.9,1826.7L446.1,1833.1L448.6,1837.8L452.3,1842.4L454.8,1845.5L462.2,1842.4L461.0,1848.6L457.3,1854.8L451.1,1862.5L448.6,1868.5L447.4,1876.0L448.6,1883.5L443.6,1889.5L442.4,1896.6L439.9,1899.4L437.4,1905.0L432.5,1910.6L426.3,1910.6L421.3,1910.6L420.1,1905.0L417.6,1898.0L413.9,1888.0L415.1,1879.0L413.9,1870.0L410.2,1864.0L410.2,1856.3L406.4,1854.8L402.7,1851.7L395.3,1853.2L389.1,1854.8L385.4,1850.2L381.6,1845.5L377.9,1840.8L377.9,1837.8L379.2,1831.5L377.9,1828.3L380.4,1821.8L384.1,1816.8L386.6,1813.5L387.8,1808.5L391.6,1805.2ZM459.8,1879.0L461.0,1885.0L458.5,1893.8L456.0,1898.0L453.6,1895.2L453.6,1888.0L457.3,1883.5L459.8,1879.0ZM540.4,1893.8L540.4,1899.4L541.6,1906.4L541.6,1910.6L545.3,1912.0L552.8,1909.2L559.0,1907.8L562.7,1907.8L566.4,1912.0L570.1,1909.2L570.1,1913.6L573.8,1916.8L578.8,1918.4L582.5,1916.8L585.0,1913.6L588.7,1906.4L588.7,1899.4L585.0,1893.8L581.3,1889.5L578.8,1883.5L576.3,1877.5L573.8,1880.5L573.8,1886.5L570.1,1885.0L567.6,1879.0L562.7,1877.5L560.2,1880.5L557.7,1883.5L554.0,1882.0L550.3,1886.5L546.6,1891.0L540.4,1893.8ZM578.8,1921.6L582.5,1921.6L582.5,1924.8L580.0,1925.6ZM613.5,1912.0L616.0,1915.2L619.7,1916.8L617.2,1921.6L614.8,1921.6L614.8,1918.4L613.5,1912.0ZM613.5,1921.6L614.8,1923.2L611.0,1929.8L606.1,1929.8L607.3,1926.4L611.0,1923.2ZM516.8,1853.2L520.5,1854.8L526.7,1861.0L530.4,1865.5L529.2,1870.0L525.5,1867.0L520.5,1859.5L516.8,1853.2ZM534.2,1859.5L539.1,1856.3L544.1,1850.2L546.6,1853.2L545.3,1859.5L542.8,1865.5L540.4,1867.0L535.4,1865.5L534.2,1859.5ZM529.2,1870.0L535.4,1870.0L540.4,1871.5L540.4,1873.8L532.9,1873.0L529.2,1871.5ZM546.6,1859.5L549.0,1859.5L554.0,1858.7L551.5,1862.5L550.3,1867.0L547.8,1868.5L546.6,1865.5L547.8,1861.0ZM561.4,1862.5L566.4,1865.5L573.8,1865.5L580.0,1870.0L585.0,1876.0L580.0,1874.5L576.3,1874.5L571.4,1873.0L568.9,1868.5L562.7,1867.0L561.4,1862.5ZM547.8,1833.1L550.3,1833.1L550.3,1839.3L554.0,1844.0L555.2,1850.2L552.8,1851.7L550.3,1845.5L547.8,1839.3L547.8,1833.1ZM560.2,1811.8L561.4,1806.9L566.4,1806.9L568.9,1805.2L572.6,1805.2L573.8,1800.3L575.1,1797.0L573.8,1793.4L578.8,1789.8L575.1,1788.0L572.6,1791.6L571.4,1797.0L568.9,1802.0L563.9,1805.2L560.2,1808.5ZM549.0,1821.8L550.3,1823.4L549.0,1826.7L547.8,1825.0ZM498.2,1846.3L500.7,1850.2L498.8,1851.7L497.8,1848.6ZM392.8,1779.0L400.2,1777.2L399.0,1773.6L396.5,1768.2L395.3,1764.6L391.6,1764.6L392.8,1770.0L395.3,1771.8L392.8,1775.4L392.8,1779.0ZM386.6,1775.4L391.6,1775.4L391.6,1770.0L389.1,1770.0L386.6,1771.8ZM369.2,1751.0L371.7,1748.0L380.4,1748.0L382.9,1751.0L376.7,1754.0L371.7,1753.0ZM412.6,1719.2L423.8,1716.3L430.0,1722.0L420.1,1724.4ZM463.5,1739.0L468.4,1734.1L475.9,1726.9L483.3,1724.4L473.4,1731.7L467.2,1739.0ZM293.6,1826.7L299.8,1825.0L306.0,1830.0L302.3,1830.0L296.1,1826.7ZM307.2,1830.0L313.4,1830.8L314.1,1833.1L307.2,1833.1ZM575.1,1771.8L576.3,1779.0L576.3,1786.2L575.1,1784.4ZM325.8,1782.6L329.6,1777.2L333.3,1784.4L329.6,1784.4Z" fill="#ecdfd0" stroke="#ecdfd0" stroke-width="1.2" stroke-linejoin="round"/></svg><!--MAPE-->
<div id="ft">越南查鱼产量位居世界榜首，不过为了实现<br>可持续发展，仍然需要采取多项行之有效和<br>配套措施来刺激该产业稳健发展。</div>

<div id="foot"></div>
<!--LOGOS--><svg class="abs" style="left:590px;top:1953px" width="210" height="45" viewBox="590 1953 210 45">
<defs><linearGradient id="lg" x1="0" y1="0" x2="0" y2="1"><stop offset="0" stop-color="#ffffff"/><stop offset=".45" stop-color="#f2f2f2"/><stop offset="1" stop-color="#a9a9ad"/></linearGradient></defs>
<text x="0" y="0" transform="translate(604,1986.300) skewX(-9) scale(1.19,1)" font-family="Liberation Sans, sans-serif" font-weight="700" font-size="33.500" fill="url(#lg)" stroke="url(#lg)" stroke-width=".9" stroke-linejoin="round">Vietnam</text>
<text x="0" y="0" transform="translate(759,1995) rotate(-6) skewX(-6) scale(1.2,1.25)" font-family="Liberation Sans, sans-serif" font-weight="400" font-size="46" fill="#ffffff" stroke="#ffffff" stroke-width=".5">+</text>
</svg><!--LOGOE-->
</body>
</html>
